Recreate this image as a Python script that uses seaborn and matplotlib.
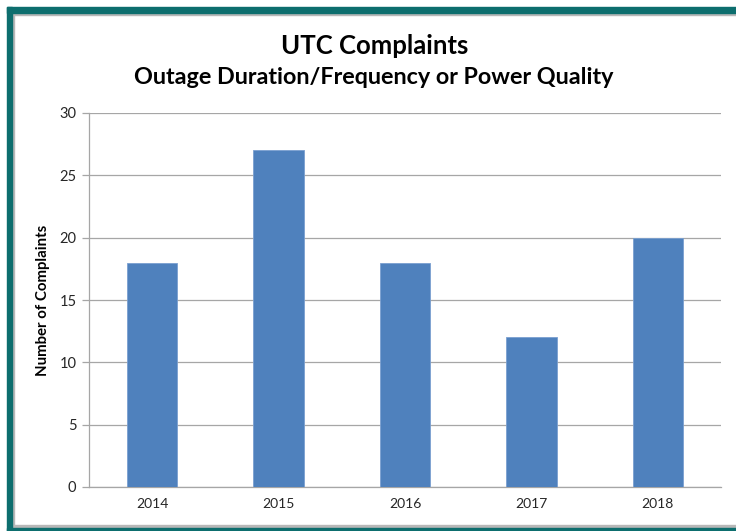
import matplotlib
matplotlib.use("Agg")
import matplotlib.pyplot as plt
import seaborn as sns
import pandas as pd
from matplotlib.patches import Rectangle

years = ["2014", "2015", "2016", "2017", "2018"]
complaints = [18, 27, 18, 12, 20]
y_ticks = [0, 5, 10, 15, 20, 25, 30]

df = pd.DataFrame({"Year": years, "Complaints": complaints})

sns.set_style("white")
plt.rcParams["font.family"] = ["Lato", "DejaVu Sans"]
plt.rcParams["text.color"] = "black"
plt.rcParams["axes.labelcolor"] = "black"
plt.rcParams["xtick.labelcolor"] = "#262626"
plt.rcParams["ytick.labelcolor"] = "#262626"

W, H = 736, 531
fig = plt.figure(figsize=(W / 100, H / 100), dpi=100)

# teal frame (left, top, bottom) with a thin grey inner line
teal = "#0d6e6e"
grey = "#b8b8b8"

def px_rect(x0, y0, x1, y1, color):
    fig.patches.append(Rectangle((x0 / W, 1 - y1 / H), (x1 - x0) / W, (y1 - y0) / H,
                                 transform=fig.transFigure, color=color, zorder=0))

px_rect(12, 13, W, 15, grey)
px_rect(12, 13, 14, 527, grey)
px_rect(12, 525, W, 528, grey)
px_rect(7, 7, W, 13, teal)
px_rect(7, 7, 12, H, teal)
px_rect(7, 528, W, H, teal)

ax = fig.add_axes([89 / W, 1 - 487 / H, (721 - 89) / W, (487 - 113) / H])
sns.barplot(data=df, x="Year", y="Complaints", color="#4f81bd", saturation=1,
            width=0.4, ax=ax, edgecolor="#7a9fd0", linewidth=0.6, zorder=3)

ax.set_ylim(0, 30)
ax.set_yticks(y_ticks)
ax.set_xlim(-0.5, len(years) - 0.5)
ax.yaxis.grid(True, color="#a6a6a6", linewidth=0.9, zorder=0)
ax.set_axisbelow(True)

for side in ["top", "right"]:
    ax.spines[side].set_visible(False)
for side in ["left", "bottom"]:
    ax.spines[side].set_color("#a6a6a6")
    ax.spines[side].set_linewidth(0.9)

# category boundary tick marks on the x axis
ax.set_xticks([i - 0.5 for i in range(len(years) + 1)], minor=True)
ax.tick_params(axis="x", which="minor", length=5, color="#a6a6a6", width=0.9)
ax.tick_params(axis="x", which="major", length=0, labelsize=10, pad=8)
ax.tick_params(axis="y", length=5, color="#a6a6a6", width=0.9, labelsize=10.5, pad=4,
               left=True)

ax.set_xlabel("")
ax.set_ylabel("Number of Complaints", fontsize=10.8, fontweight="bold", labelpad=7)

fig.text(375 / W, 1 - 45.5 / H, "UTC Complaints", ha="center", va="center",
         fontsize=18.5, fontweight="bold")
fig.text(374 / W, 1 - 78 / H, "Outage Duration/Frequency or Power Quality",
         ha="center", va="center", fontsize=16.8, fontweight="bold")

fig.savefig("out.png", dpi=100)
